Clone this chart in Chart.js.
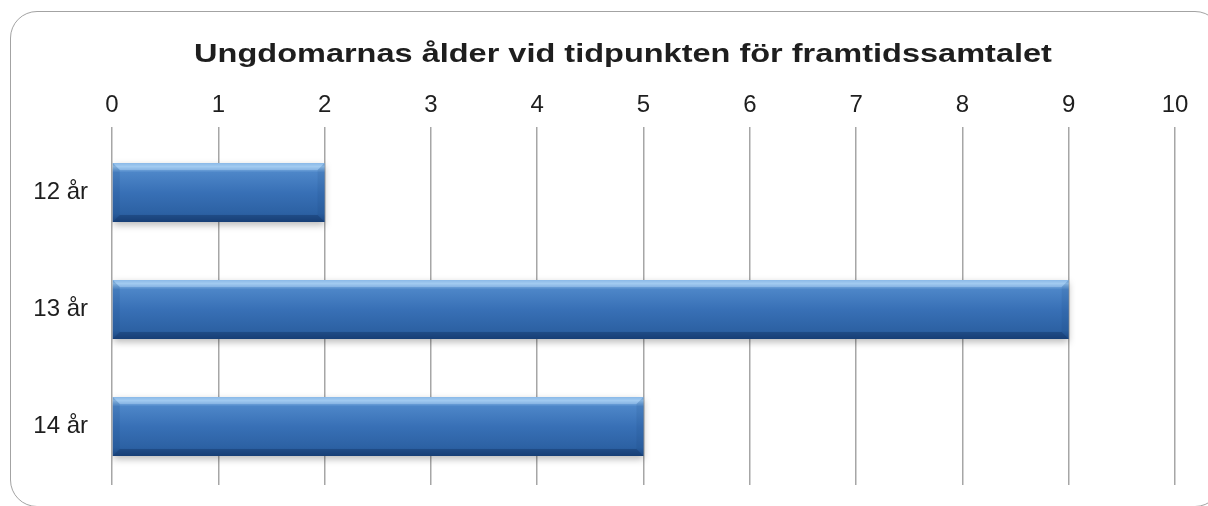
<!DOCTYPE html>
<html lang="sv">
<head>
<meta charset="utf-8">
<title>Ungdomarnas ålder vid tidpunkten för framtidssamtalet</title>
<script src="https://cdn.jsdelivr.net/npm/chart.js@4/dist/chart.umd.min.js"></script>
<style>
  html, body { margin: 0; padding: 0; background: #fff; overflow: hidden; }
  .wrap { position: relative; width: 1208px; height: 506px; overflow: hidden; }
  .frame {
    position: absolute; left: 10px; top: 11px; width: 1212px; height: 496px;
    border: 1.5px solid #a3a3a3; border-radius: 27px; box-sizing: border-box;
  }
  canvas { position: absolute; left: 0; top: 0; }
</style>
</head>
<body>
<div class="wrap">
  <div class="frame"></div>
  <canvas id="ageChart" width="1208" height="506"></canvas>
</div>
<script>
// data
const TITLE = "Ungdomarnas ålder vid tidpunkten för framtidssamtalet";
const categories = ["12 år", "13 år", "14 år"];
const counts = [2, 9, 5];
const X_MIN = 0;
const X_MAX = 10;
const X_STEP = 1;

const FONT = "'Liberation Sans', Arial, sans-serif";
const TEXT = "#1e1e1e";
const GRID = "#a6a6a6";

// blue bar body: vertical gradient matched to each bar's band
function barFill(context) {
  const chart = context.chart;
  const yScale = chart.scales.y;
  if (!chart.chartArea || !yScale) return "#3a72b8";
  const c = yScale.getPixelForValue(context.dataIndex);
  const h = 59;
  const g = chart.ctx.createLinearGradient(0, c - h / 2, 0, c + h / 2);
  g.addColorStop(0, "#6fa6de");
  g.addColorStop(0.06, "#93c1ec");
  g.addColorStop(0.16, "#4d86c8");
  g.addColorStop(0.5, "#3870b6");
  g.addColorStop(0.86, "#2c61a3");
  g.addColorStop(1, "#1d4a86");
  return g;
}

// the title in the original is drawn wide, so stretch it sideways
const wideTitle = {
  id: "wideTitle",
  afterDraw(chart) {
    const ctx = chart.ctx;
    ctx.save();
    ctx.font = `bold 26px ${FONT}`;
    ctx.fillStyle = TEXT;
    ctx.textAlign = "center";
    ctx.textBaseline = "alphabetic";
    ctx.translate(chart.width / 2 + 19, 62);
    ctx.scale(1.25, 1);
    ctx.fillText(TITLE, 0, 0);
    ctx.restore();
  },
};

// soft shadow + bevelled edges, drawn on the bar elements the library laid out
const bevelPlugin = {
  id: "bevel",
  beforeDatasetDraw(chart) {
    const ctx = chart.ctx;
    ctx.save();
    ctx.shadowColor = "rgba(0,0,0,0.28)";
    ctx.shadowBlur = 7;
    ctx.shadowOffsetY = 3;
  },
  afterDatasetDraw(chart, args) {
    const ctx = chart.ctx;
    ctx.restore();
    const b = 7;
    args.meta.data.forEach((bar) => {
      const p = bar.getProps(["x", "y", "base", "height"], true);
      const l = Math.min(p.base, p.x), r = Math.max(p.base, p.x);
      const t = p.y - p.height / 2, btm = p.y + p.height / 2;
      ctx.save();
      // top
      ctx.fillStyle = "rgba(190,222,250,0.35)";
      ctx.beginPath();
      ctx.moveTo(l, t); ctx.lineTo(r, t); ctx.lineTo(r - b, t + b); ctx.lineTo(l + b, t + b);
      ctx.closePath(); ctx.fill();
      // left
      ctx.fillStyle = "rgba(20,55,110,0.12)";
      ctx.beginPath();
      ctx.moveTo(l, t); ctx.lineTo(l + b, t + b); ctx.lineTo(l + b, btm - b); ctx.lineTo(l, btm);
      ctx.closePath(); ctx.fill();
      // right
      ctx.fillStyle = "rgba(20,55,110,0.10)";
      ctx.beginPath();
      ctx.moveTo(r, t); ctx.lineTo(r - b, t + b); ctx.lineTo(r - b, btm - b); ctx.lineTo(r, btm);
      ctx.closePath(); ctx.fill();
      // bottom
      ctx.fillStyle = "rgba(10,35,80,0.30)";
      ctx.beginPath();
      ctx.moveTo(l, btm); ctx.lineTo(l + b, btm - b); ctx.lineTo(r - b, btm - b); ctx.lineTo(r, btm);
      ctx.closePath(); ctx.fill();
      ctx.restore();
    });
  },
};

new Chart(document.getElementById("ageChart"), {
  type: "bar",
  data: {
    labels: categories,
    datasets: [
      {
        label: "Antal",
        data: counts,
        backgroundColor: barFill,
        borderWidth: 0,
        barPercentage: 0.504,
        categoryPercentage: 1,
      },
    ],
  },
  options: {
    indexAxis: "y",
    responsive: false,
    animation: false,
    layout: { padding: { top: 75, right: 33, bottom: 21, left: 0 } },
    plugins: {
      legend: { display: false },
      tooltip: { enabled: false },
      title: { display: false },
    },
    scales: {
      x: {
        position: "top",
        min: X_MIN,
        max: X_MAX,
        ticks: { stepSize: X_STEP, color: TEXT, padding: 7, font: { family: FONT, size: 24 } },
        grid: { color: GRID, lineWidth: 1.5, tickLength: 7, tickColor: GRID },
        border: { display: false },
        afterFit(scale) { scale.height = 59; },
      },
      y: {
        // gap to the bars comes from an undrawn tick length, so it does not pad the axis ends
        ticks: { color: TEXT, padding: 0, font: { family: FONT, size: 24 } },
        grid: { display: false, drawTicks: true, tickLength: 24 },
        border: { display: false },
        afterFit(scale) { scale.width = 112; },
      },
    },
  },
  plugins: [bevelPlugin, wideTitle],
});
</script>
</body>
</html>
